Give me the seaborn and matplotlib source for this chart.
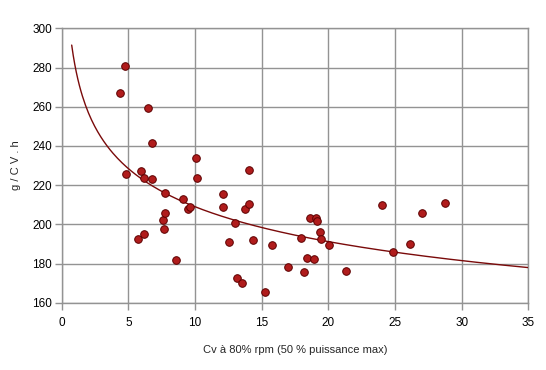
import numpy as np
import pandas as pd
import matplotlib
matplotlib.use("Agg")
import matplotlib.pyplot as plt
import seaborn as sns

# Data
cv = [4.35, 4.75, 4.85, 5.71, 5.95, 6.16, 6.18, 6.45, 6.78, 6.76,
      7.58, 7.66, 7.73, 7.73, 8.56, 9.08, 9.50, 9.61, 10.06, 10.14,
      12.09, 12.09, 12.54, 13.01, 13.14, 13.51, 13.74, 14.04, 14.06, 14.34,
      15.24, 15.77, 16.97, 17.94, 18.17, 18.39, 18.62, 18.94, 19.07, 19.14,
      19.37, 19.44, 20.05, 21.32, 24.02, 24.85, 26.13, 27.03, 28.78]
conso = [267.0, 281.0, 225.8, 192.7, 227.3, 223.8, 195.2, 259.5, 241.6, 223.3,
         202.3, 197.8, 216.1, 205.9, 181.9, 212.9, 207.8, 208.7, 234.0, 223.8,
         215.6, 209.0, 191.1, 200.8, 172.4, 170.2, 208.0, 210.2, 227.9, 192.1,
         165.6, 189.6, 178.4, 193.2, 175.8, 183.0, 203.4, 182.5, 203.1, 201.8,
         195.9, 192.7, 189.6, 176.3, 210.0, 186.0, 190.1, 205.6, 211.0]
x_ticks = [0, 5, 10, 15, 20, 25, 30, 35]
y_ticks = [160, 180, 200, 220, 240, 260, 280, 300]
x_label = "Cv à 80% rpm (50 % puissance max)"
y_label = "g / C V . h"

df = pd.DataFrame({"cv": cv, "conso": conso})

# power trend line (least squares in log-log), like a spreadsheet trendline
b, ln_a = np.polyfit(np.log(df["cv"]), np.log(df["conso"]), 1)
xt = np.linspace(0.75, 35, 300)
trend = pd.DataFrame({"cv": xt, "conso": np.exp(ln_a) * xt ** b})

sns.set_style("white")
plt.rcParams["font.family"] = ["Liberation Sans", "DejaVu Sans"]

fig = plt.figure(figsize=(5.46, 3.70), dpi=100)
ax = fig.add_axes([61.7 / 546, 1 - 302.7 / 370, (528.3 - 61.7) / 546, (302.7 - 28.3) / 370])

grid_c = "#939393"
sns.lineplot(data=trend, x="cv", y="conso", ax=ax, color="#7a0a0a", lw=1.0, zorder=3)
sns.scatterplot(data=df, x="cv", y="conso", ax=ax, s=30, color="#b01c1c",
                edgecolor="#5c0000", linewidth=0.7, zorder=4)

ax.set_xlim(0, 35)
ax.set_ylim(160, 300)
ax.set_xticks(x_ticks)
ax.set_yticks(y_ticks)
ax.grid(True, color=grid_c, lw=1.0)
ax.set_axisbelow(True)
for s in ax.spines.values():
    s.set_color(grid_c)
    s.set_linewidth(1.0)
ax.tick_params(axis="both", which="both", direction="out", length=5, width=1,
               color=grid_c, labelsize=8.5, labelcolor="black")
ax.tick_params(axis="x", bottom=True, pad=5)
ax.tick_params(axis="y", left=True, pad=2)
ax.set_xlabel(x_label, fontsize=8, labelpad=12)
ax.set_ylabel(y_label, fontsize=8, labelpad=8)

fig.savefig("out.png", dpi=100)
